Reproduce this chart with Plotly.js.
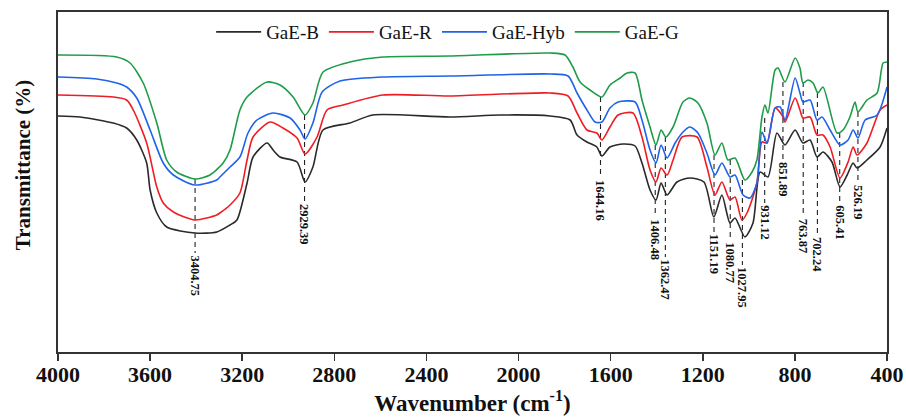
<!DOCTYPE html>
<html>
<head>
<meta charset="utf-8">
<script src="https://cdn.plot.ly/plotly-3.0.1.min.js"></script>
<style>html,body{margin:0;padding:0;background:#fff}#chart{width:906px;height:417px}</style>
</head>
<body>
<div id="chart"></div>
<script>
// Series names and colours
const seriesNames = ["GaE-B", "GaE-R", "GaE-Hyb", "GaE-G"];

// GaE-B (black)
const wnB = [4000,3904,3760,3702,3658,3615,3600,3571,3528,3405,3310,3253,3223,3179,3153,3092,3066,3036,2962,2927,2893,2849,2732,2632,2298,2081,1863,1776,1746,1703,1660,1638,1603,1546,1494,1464,1429,1403,1381,1355,1312,1256,1195,1152,1117,1082,1060,1017,982,951,917,878,843,799,765,734,704,678,639,604,573,547,530,487,430,400];
const tB  = [236,235,229,224,212,189,162,139,125,119,120,127,132,169,195,209,202,195,190,170,185,222,229,237,235,237,236,232,217,210,205,196,205,208,206,189,162,152,169,157,170,174,170,135,157,129,134,115,129,180,175,219,207,222,209,212,195,200,190,165,177,189,184,192,205,224];

// GaE-R (red)
const wnR = [4000,3761,3702,3673,3615,3571,3543,3499,3405,3311,3297,3253,3210,3179,3153,3079,3023,2962,2927,2875,2832,2762,2589,2298,1863,1785,1746,1703,1660,1638,1603,1568,1503,1464,1429,1403,1381,1355,1329,1290,1225,1182,1147,1117,1082,1060,1030,1008,965,943,921,886,856,843,799,778,765,734,704,678,647,604,569,547,530,487,430,400];
const tR  = [257,255,252,242,209,165,149,140,132,137,139,147,159,192,215,230,224,214,198,215,242,247,257,256,259,256,239,222,219,212,225,237,239,215,182,170,184,177,192,215,215,185,157,170,152,155,132,139,169,210,209,244,237,230,254,242,234,235,217,217,205,174,190,205,197,209,242,247];

// GaE-Hyb (blue)
const wnH = [4000,3832,3745,3702,3658,3600,3543,3499,3405,3311,3297,3253,3210,3175,3136,3066,2992,2949,2927,2893,2853,2775,2589,2298,1863,1785,1746,1703,1668,1638,1603,1568,1494,1464,1429,1403,1381,1355,1320,1286,1256,1221,1182,1147,1117,1082,1060,1025,995,965,943,921,886,864,843,799,778,765,734,704,682,647,604,569,547,526,495,443,400];
const tH  = [275,273,269,265,254,222,189,177,167,172,175,185,195,219,232,239,234,222,213,229,260,271,275,276,278,276,259,242,230,230,244,250,250,232,202,189,207,194,209,220,225,219,199,177,189,175,177,157,154,169,220,209,244,245,232,274,259,250,252,232,235,222,207,212,222,214,232,237,265];

// GaE-G (green)
const wnG = [4000,3745,3687,3630,3571,3528,3485,3405,3340,3283,3253,3210,3179,3092,3036,2979,2927,2893,2849,2732,2589,2298,1863,1798,1764,1733,1690,1638,1603,1559,1529,1494,1464,1429,1403,1381,1360,1329,1286,1256,1221,1182,1147,1117,1091,1060,1017,986,965,943,930,917,886,873,843,799,778,765,743,721,700,678,617,591,561,539,526,487,443,417,400];
const tG  = [297,295,289,269,229,192,180,173,177,189,202,242,255,270,267,255,237,249,280,290,295,296,299,297,285,270,262,255,267,274,279,279,252,225,207,222,215,225,250,254,249,229,197,209,192,194,172,180,192,235,247,239,282,284,270,294,284,269,272,269,259,265,219,222,235,250,240,252,259,289,290];

// Marked bands
const peakWn    = [3404.75, 2929.39, 1644.16, 1406.48, 1362.47, 1151.19, 1080.77, 1027.95, 931.12, 851.89, 763.87, 702.24, 605.41, 526.19];
const peakLabel = ["3404.75","2929.39","1644.16","1406.48","1362.47","1151.19","1080.77","1027.95","931.12","851.89","763.87","702.24","605.41","526.19"];
const peakTop   = [173, 237, 255, 207, 215, 197, 192, 172, 234, 270, 270, 259, 219, 240];
const peakEnd   = [99, 150, 174, 135, 95, 120, 112, 87, 149, 192, 135, 117, 149, 169];

// X ticks
const xTicks = [4000,3600,3200,2800,2400,2000,1600,1200,800,400];

const colors = ["#2a2a2a", "#ee1d23", "#1f63e8", "#1e9c4a"];
const serif = "Liberation Serif, Times New Roman, serif";

const data = [];
peakWn.forEach((w, i) => {
  data.push({x: [w, w], y: [peakTop[i], peakEnd[i]], type: "scatter", mode: "lines",
    line: {color: "#222", width: 1.1, dash: "5px,4px"}, showlegend: false, hoverinfo: "skip"});
});
const xs = [wnB, wnR, wnH, wnG];
const ys = [tB, tR, tH, tG];
for (let i = 0; i < 4; i++) {
  data.push({x: xs[i], y: ys[i], name: seriesNames[i], type: "scatter", mode: "lines",
    line: {color: colors[i], width: 1.6, shape: "spline", smoothing: 0.7}});
}

const annotations = peakWn.map((w, i) => ({
  x: w, y: peakEnd[i], xref: "x", yref: "y", text: peakLabel[i], showarrow: false,
  textangle: 90, xanchor: "center", yanchor: "top",
  font: {family: serif, size: 12.5, color: "#111", weight: "bold"}
}));
annotations.push({
  xref: "paper", yref: "paper", x: -0.042, y: 0.55, text: "<b>Transmittance (%)</b>",
  showarrow: false, textangle: -90, xanchor: "center", yanchor: "middle",
  font: {family: serif, size: 21, color: "#111"}
});

const layout = {
  width: 906, height: 417,
  margin: {l: 58, r: 19, t: 12, b: 65},
  paper_bgcolor: "#fff", plot_bgcolor: "#fff",
  showlegend: true,
  legend: {orientation: "h", x: 0.47, y: 0.941, xanchor: "center", yanchor: "middle",
    font: {family: serif, size: 19, color: "#111"}, bgcolor: "rgba(0,0,0,0)", itemwidth: 45, tracegroupgap: 0},
  xaxis: {
    range: [4000, 400], tickvals: xTicks, ticktext: xTicks.map(String),
    showline: true, linecolor: "#333", linewidth: 1.6, mirror: true,
    ticks: "outside", ticklen: 7, tickwidth: 1.5, tickcolor: "#333",
    showgrid: false, zeroline: false, ticklabelstandoff: -5,
    tickfont: {family: serif, size: 22, color: "#111", weight: "bold"},
    title: {text: "<b>Wavenumber (cm<sup>-1</sup>)</b>", font: {family: serif, size: 23, color: "#111"}, standoff: 8}
  },
  yaxis: {
    range: [0, 340], showline: true, linecolor: "#333", linewidth: 1.6, mirror: true,
    ticks: "", showticklabels: false, showgrid: false, zeroline: false
  },
  annotations: annotations
};

Plotly.newPlot("chart", data, layout, {displayModeBar: false, staticPlot: true});
</script>
</body>
</html>
